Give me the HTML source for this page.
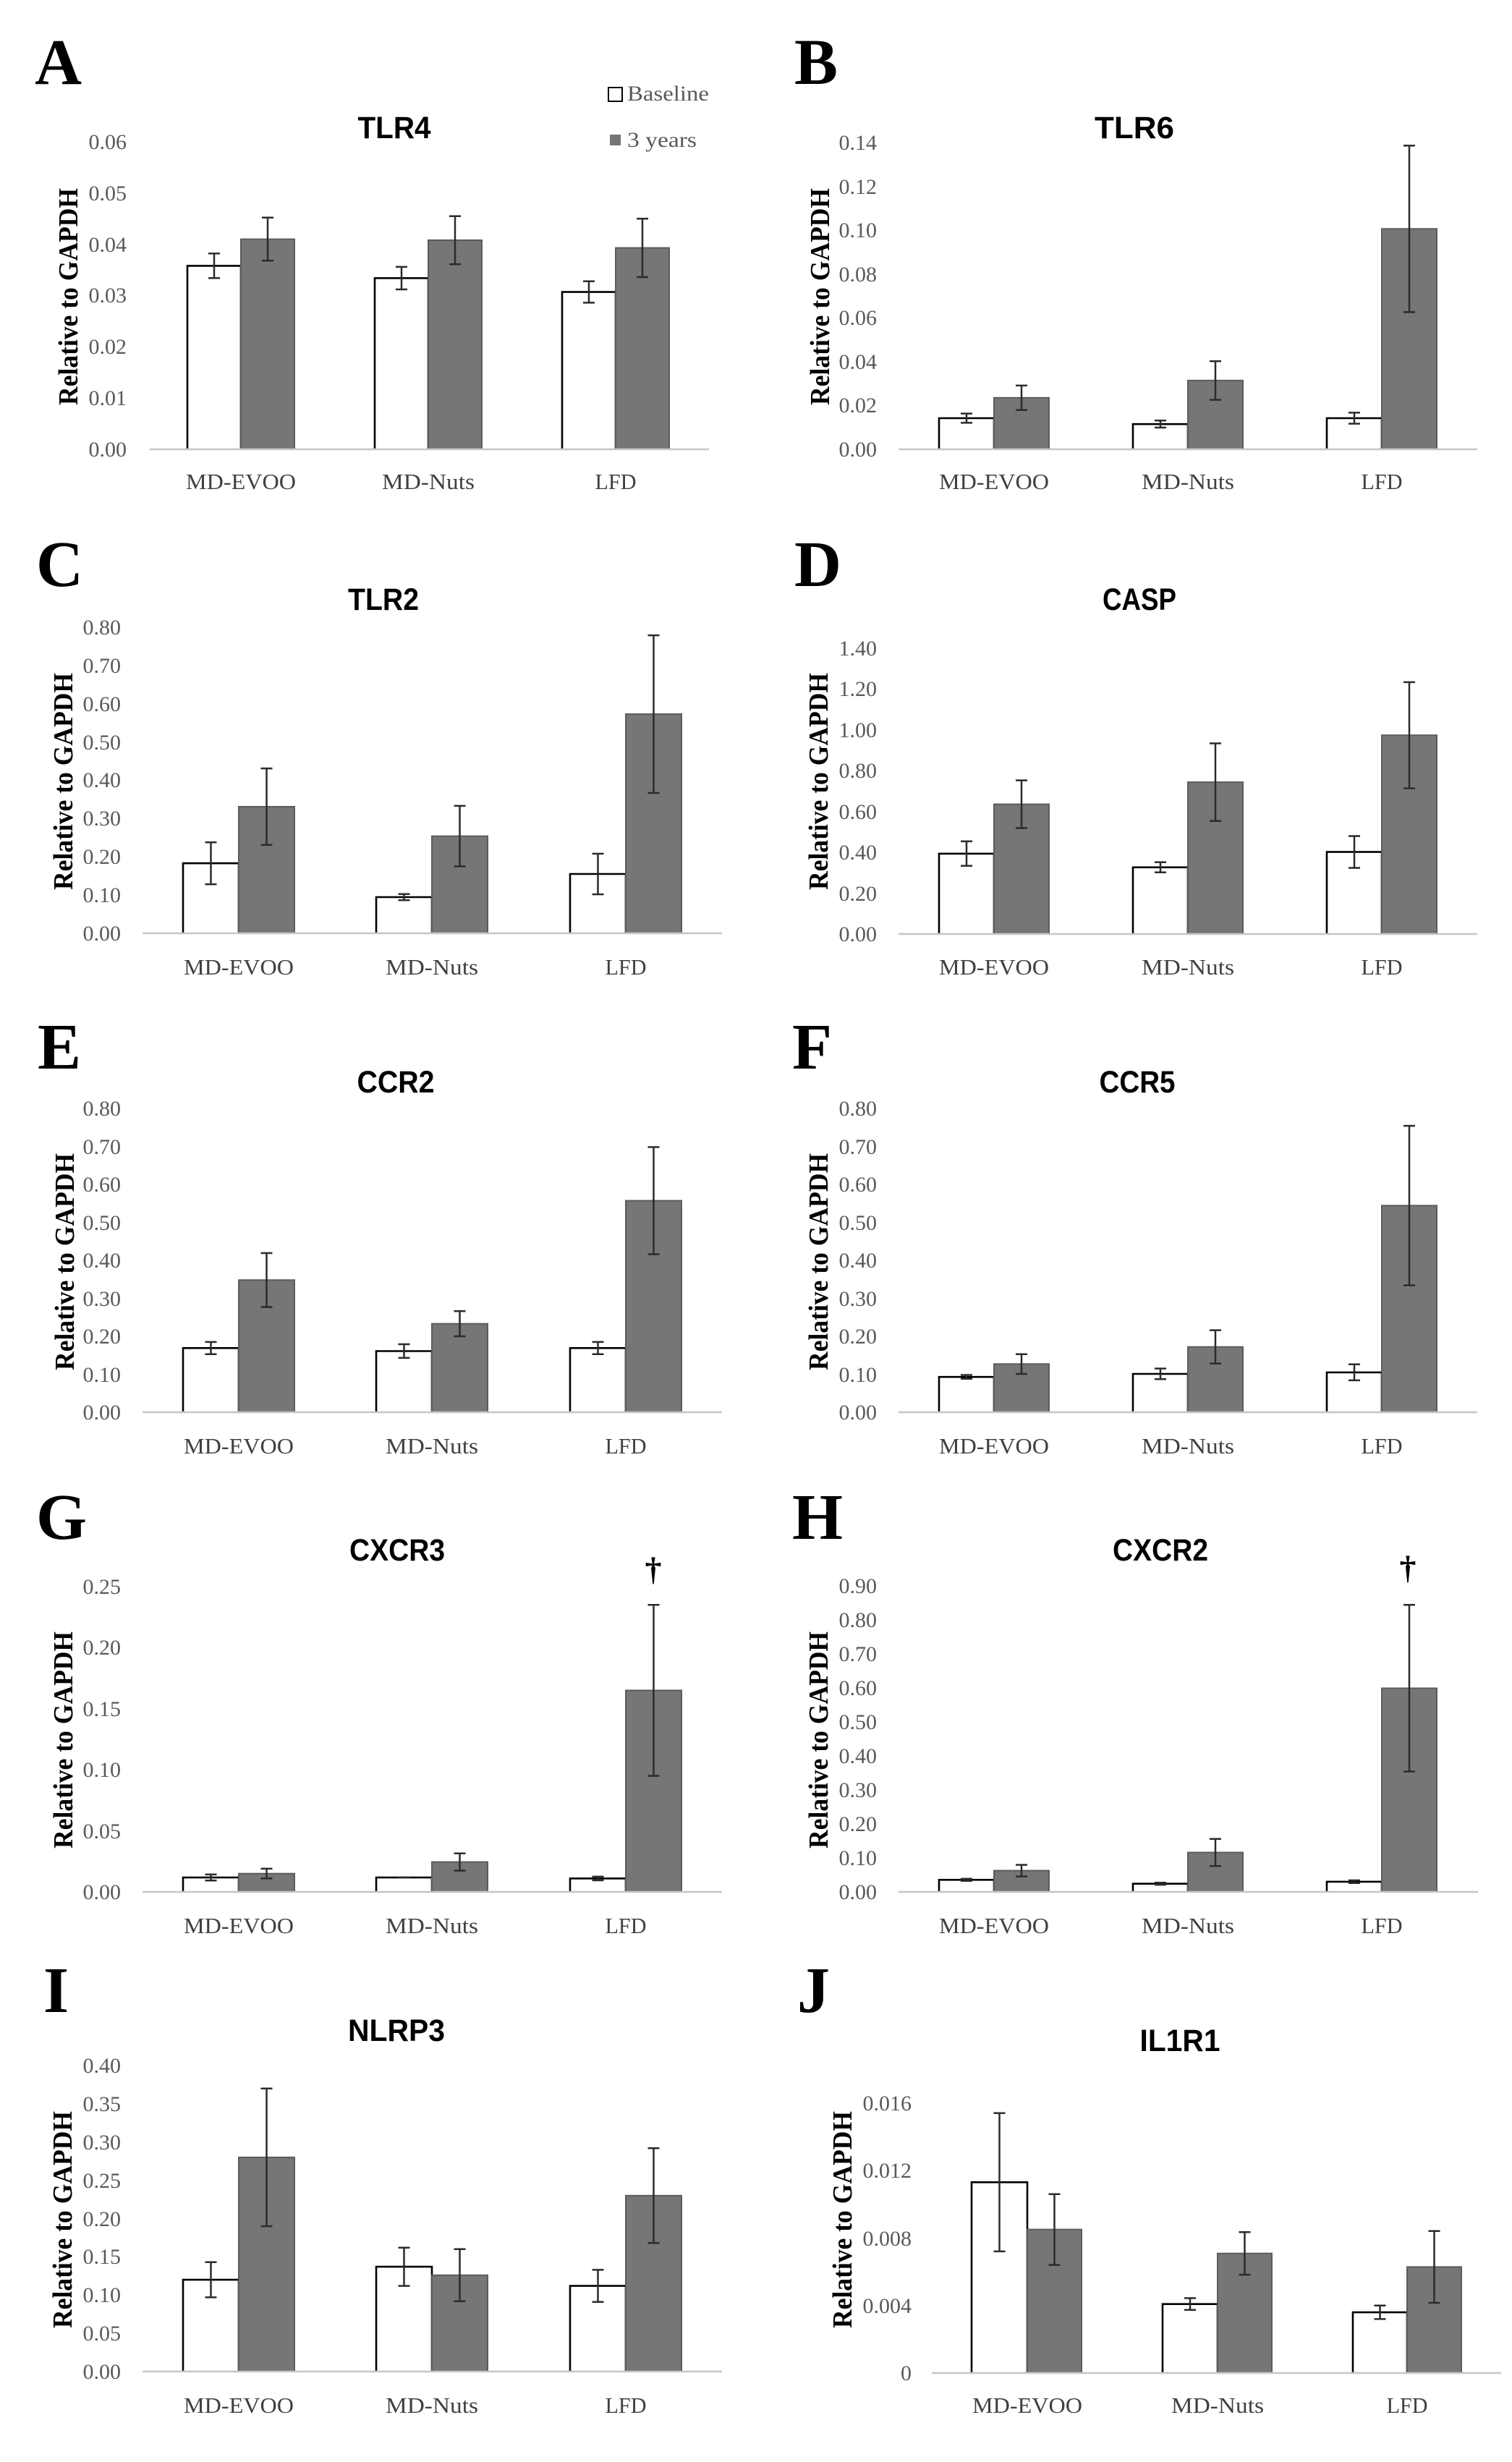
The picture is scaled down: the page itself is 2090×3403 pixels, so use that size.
<!DOCTYPE html>
<html><head><meta charset="utf-8"><style>
html,body{margin:0;padding:0;background:#fff;}
svg{display:block;}
.t{font-family:"Liberation Serif",serif;font-size:30px;fill:#595959;text-anchor:end;}
.x{font-family:"Liberation Serif",serif;font-size:31px;fill:#404040;text-anchor:middle;}
.ttl{font-family:"Liberation Sans",sans-serif;font-weight:bold;font-size:43px;fill:#000;text-anchor:middle;}
.yl{font-family:"Liberation Serif",serif;font-weight:bold;font-size:38px;fill:#000;text-anchor:middle;}
.L{font-family:"Liberation Serif",serif;font-weight:bold;font-size:90px;fill:#000;}
.lg{font-family:"Liberation Serif",serif;font-size:30px;fill:#595959;}
.dg{font-family:"Liberation Serif",serif;font-weight:bold;font-size:46px;fill:#000;text-anchor:middle;}
.ax{stroke:#c6c6c6;stroke-width:2.5;fill:none;}
.w{fill:#fff;stroke:#000;stroke-width:2.6;}
.g{fill:#767676;stroke:#5c5c5c;stroke-width:2;}
.e{stroke:#2b2b2b;stroke-width:2.5;fill:none;}
</style></head><body>
<svg xmlns="http://www.w3.org/2000/svg" width="2090" height="3403" viewBox="0 0 2090 3403">
<rect width="2090" height="3403" fill="#fff"/>

<!-- ================= A ================= -->
<text class="L" x="48" y="116">A</text>
<text class="ttl" x="545" y="191" textLength="101" lengthAdjust="spacingAndGlyphs">TLR4</text>
<rect x="841" y="121" width="19" height="19" fill="#fff" stroke="#000" stroke-width="2"/>
<text class="lg" x="867" y="139" textLength="113" lengthAdjust="spacingAndGlyphs">Baseline</text>
<rect x="843" y="186" width="15" height="15" fill="#767676"/>
<text class="lg" x="867" y="203" textLength="96" lengthAdjust="spacingAndGlyphs">3 years</text>
<text class="yl" transform="translate(107,410) rotate(-90)" textLength="300" lengthAdjust="spacingAndGlyphs">Relative to GAPDH</text>
<text class="t" x="175" y="206">0.06</text>
<text class="t" x="175" y="277">0.05</text>
<text class="t" x="175" y="348">0.04</text>
<text class="t" x="175" y="418">0.03</text>
<text class="t" x="175" y="489">0.02</text>
<text class="t" x="175" y="560">0.01</text>
<text class="t" x="175" y="631">0.00</text>
<path class="w" d="M259 621V367.4H333V621"/>
<rect class="g" x="333" y="330.6" width="74" height="290.4"/>
<path class="w" d="M518 621V384.4H592V621"/>
<rect class="g" x="592" y="332" width="74" height="289"/>
<path class="w" d="M777 621V403.6H851V621"/>
<rect class="g" x="851" y="342.6" width="74" height="278.4"/>
<line class="ax" x1="207" y1="621" x2="980" y2="621"/>
<path class="e" d="M296 350.4V384.4M288 350.4H304M288 384.4H304"/>
<path class="e" d="M370 300.8V360.3M362 300.8H378M362 360.3H378"/>
<path class="e" d="M555 368.9V400M547 368.9H563M547 400H563"/>
<path class="e" d="M629 298.7V365.3M621 298.7H637M621 365.3H637"/>
<path class="e" d="M814 388.7V418.4M806 388.7H822M806 418.4H822"/>
<path class="e" d="M888 302.3V383M880 302.3H896M880 383H896"/>
<text class="x" x="333" y="676" textLength="152" lengthAdjust="spacingAndGlyphs">MD-EVOO</text>
<text class="x" x="592" y="676" textLength="128" lengthAdjust="spacingAndGlyphs">MD-Nuts</text>
<text class="x" x="851" y="676" textLength="57" lengthAdjust="spacingAndGlyphs">LFD</text>

<!-- ================= B ================= -->
<text class="L" x="1098" y="116">B</text>
<text class="ttl" x="1568" y="191" textLength="110" lengthAdjust="spacingAndGlyphs">TLR6</text>
<text class="yl" transform="translate(1146,410) rotate(-90)" textLength="300" lengthAdjust="spacingAndGlyphs">Relative to GAPDH</text>
<text class="t" x="1212" y="207">0.14</text>
<text class="t" x="1212" y="268">0.12</text>
<text class="t" x="1212" y="328">0.10</text>
<text class="t" x="1212" y="389">0.08</text>
<text class="t" x="1212" y="449">0.06</text>
<text class="t" x="1212" y="510">0.04</text>
<text class="t" x="1212" y="570">0.02</text>
<text class="t" x="1212" y="631">0.00</text>
<path class="w" d="M1298 621V578H1374V621"/>
<rect class="g" x="1374" y="549.8" width="76" height="71.2"/>
<path class="w" d="M1566 621V586.2H1642V621"/>
<rect class="g" x="1642" y="525.9" width="76" height="95.1"/>
<path class="w" d="M1834 621V578H1910V621"/>
<rect class="g" x="1910" y="316.3" width="76" height="304.7"/>
<line class="ax" x1="1242" y1="621" x2="2042" y2="621"/>
<path class="e" d="M1336 571.6V584.4M1328 571.6H1344M1328 584.4H1344"/>
<path class="e" d="M1412 532.9V566.8M1404 532.9H1420M1404 566.8H1420"/>
<path class="e" d="M1604 581.3V591M1596 581.3H1612M1596 591H1612"/>
<path class="e" d="M1680 499.3V552.6M1672 499.3H1688M1672 552.6H1688"/>
<path class="e" d="M1872 570.4V585.6M1864 570.4H1880M1864 585.6H1880"/>
<path class="e" d="M1948 201.2V431.4M1940 201.2H1956M1940 431.4H1956"/>
<text class="x" x="1374" y="676" textLength="152" lengthAdjust="spacingAndGlyphs">MD-EVOO</text>
<text class="x" x="1642" y="676" textLength="128" lengthAdjust="spacingAndGlyphs">MD-Nuts</text>
<text class="x" x="1910" y="676" textLength="57" lengthAdjust="spacingAndGlyphs">LFD</text>

<!-- ================= C ================= -->
<text class="L" x="50" y="810">C</text>
<text class="ttl" x="530" y="843" textLength="98" lengthAdjust="spacingAndGlyphs">TLR2</text>
<text class="yl" transform="translate(100,1080) rotate(-90)" textLength="300" lengthAdjust="spacingAndGlyphs">Relative to GAPDH</text>
<text class="t" x="167" y="877">0.80</text>
<text class="t" x="167" y="930">0.70</text>
<text class="t" x="167" y="983">0.60</text>
<text class="t" x="167" y="1036">0.50</text>
<text class="t" x="167" y="1088">0.40</text>
<text class="t" x="167" y="1141">0.30</text>
<text class="t" x="167" y="1194">0.20</text>
<text class="t" x="167" y="1247">0.10</text>
<text class="t" x="167" y="1300">0.00</text>
<path class="w" d="M253 1290V1193.2H330V1290"/>
<rect class="g" x="330" y="1115" width="77" height="175"/>
<path class="w" d="M520 1290V1240H597V1290"/>
<rect class="g" x="597" y="1155.7" width="77" height="134.3"/>
<path class="w" d="M788 1290V1208H865V1290"/>
<rect class="g" x="865" y="987" width="77" height="303"/>
<line class="ax" x1="197" y1="1290" x2="998" y2="1290"/>
<path class="e" d="M291.5 1164.2V1222.3M283.5 1164.2H299.5M283.5 1222.3H299.5"/>
<path class="e" d="M368.5 1062.1V1167.9M360.5 1062.1H376.5M360.5 1167.9H376.5"/>
<path class="e" d="M558.5 1235.8V1244.3M550.5 1235.8H566.5M550.5 1244.3H566.5"/>
<path class="e" d="M635.5 1113.9V1197.5M627.5 1113.9H643.5M627.5 1197.5H643.5"/>
<path class="e" d="M826.5 1180V1236.1M818.5 1180H834.5M818.5 1236.1H834.5"/>
<path class="e" d="M903.5 878.1V1096M895.5 878.1H911.5M895.5 1096H911.5"/>
<text class="x" x="330" y="1347" textLength="152" lengthAdjust="spacingAndGlyphs">MD-EVOO</text>
<text class="x" x="597" y="1347" textLength="128" lengthAdjust="spacingAndGlyphs">MD-Nuts</text>
<text class="x" x="865" y="1347" textLength="57" lengthAdjust="spacingAndGlyphs">LFD</text>

<!-- ================= D ================= -->
<text class="L" x="1098" y="810">D</text>
<text class="ttl" x="1575" y="843" textLength="102" lengthAdjust="spacingAndGlyphs">CASP</text>
<text class="yl" transform="translate(1144,1080) rotate(-90)" textLength="300" lengthAdjust="spacingAndGlyphs">Relative to GAPDH</text>
<text class="t" x="1212" y="906">1.40</text>
<text class="t" x="1212" y="962">1.20</text>
<text class="t" x="1212" y="1019">1.00</text>
<text class="t" x="1212" y="1075">0.80</text>
<text class="t" x="1212" y="1132">0.60</text>
<text class="t" x="1212" y="1188">0.40</text>
<text class="t" x="1212" y="1245">0.20</text>
<text class="t" x="1212" y="1301">0.00</text>
<path class="w" d="M1298 1291V1179.9H1374V1291"/>
<rect class="g" x="1374" y="1111.6" width="76" height="179.4"/>
<path class="w" d="M1566 1291V1198.8H1642V1291"/>
<rect class="g" x="1642" y="1081.1" width="76" height="209.9"/>
<path class="w" d="M1834 1291V1177.6H1910V1291"/>
<rect class="g" x="1910" y="1016.2" width="76" height="274.8"/>
<line class="ax" x1="1242" y1="1291" x2="2042" y2="1291"/>
<path class="e" d="M1336 1162.9V1196.8M1328 1162.9H1344M1328 1196.8H1344"/>
<path class="e" d="M1412 1078.6V1144.6M1404 1078.6H1420M1404 1144.6H1420"/>
<path class="e" d="M1604 1191.7V1205.8M1596 1191.7H1612M1596 1205.8H1612"/>
<path class="e" d="M1680 1027.5V1134.7M1672 1027.5H1688M1672 1134.7H1688"/>
<path class="e" d="M1872 1155.6V1199.6M1864 1155.6H1880M1864 1199.6H1880"/>
<path class="e" d="M1948 942.9V1089.6M1940 942.9H1956M1940 1089.6H1956"/>
<text class="x" x="1374" y="1347" textLength="152" lengthAdjust="spacingAndGlyphs">MD-EVOO</text>
<text class="x" x="1642" y="1347" textLength="128" lengthAdjust="spacingAndGlyphs">MD-Nuts</text>
<text class="x" x="1910" y="1347" textLength="57" lengthAdjust="spacingAndGlyphs">LFD</text>

<!-- ================= E ================= -->
<text class="L" x="52" y="1477">E</text>
<text class="ttl" x="547" y="1510" textLength="107" lengthAdjust="spacingAndGlyphs">CCR2</text>
<text class="yl" transform="translate(102,1744) rotate(-90)" textLength="300" lengthAdjust="spacingAndGlyphs">Relative to GAPDH</text>
<text class="t" x="167" y="1542">0.80</text>
<text class="t" x="167" y="1595">0.70</text>
<text class="t" x="167" y="1647">0.60</text>
<text class="t" x="167" y="1700">0.50</text>
<text class="t" x="167" y="1752">0.40</text>
<text class="t" x="167" y="1805">0.30</text>
<text class="t" x="167" y="1857">0.20</text>
<text class="t" x="167" y="1910">0.10</text>
<text class="t" x="167" y="1962">0.00</text>
<path class="w" d="M253 1952V1863.3H330V1952"/>
<rect class="g" x="330" y="1769.3" width="77" height="182.7"/>
<path class="w" d="M520 1952V1867.5H597V1952"/>
<rect class="g" x="597" y="1829.7" width="77" height="122.3"/>
<path class="w" d="M788 1952V1863.3H865V1952"/>
<rect class="g" x="865" y="1659.6" width="77" height="292.4"/>
<line class="ax" x1="197" y1="1952" x2="998" y2="1952"/>
<path class="e" d="M291.5 1854.9V1871.7M283.5 1854.9H299.5M283.5 1871.7H299.5"/>
<path class="e" d="M368.5 1732V1806.6M360.5 1732H376.5M360.5 1806.6H376.5"/>
<path class="e" d="M558.5 1858V1876.9M550.5 1858H566.5M550.5 1876.9H566.5"/>
<path class="e" d="M635.5 1812.3V1847M627.5 1812.3H643.5M627.5 1847H643.5"/>
<path class="e" d="M826.5 1854.9V1871.7M818.5 1854.9H834.5M818.5 1871.7H834.5"/>
<path class="e" d="M903.5 1585.5V1733.6M895.5 1585.5H911.5M895.5 1733.6H911.5"/>
<text class="x" x="330" y="2009" textLength="152" lengthAdjust="spacingAndGlyphs">MD-EVOO</text>
<text class="x" x="597" y="2009" textLength="128" lengthAdjust="spacingAndGlyphs">MD-Nuts</text>
<text class="x" x="865" y="2009" textLength="57" lengthAdjust="spacingAndGlyphs">LFD</text>

<!-- ================= F ================= -->
<text class="L" x="1095" y="1477">F</text>
<text class="ttl" x="1572" y="1510" textLength="105" lengthAdjust="spacingAndGlyphs">CCR5</text>
<text class="yl" transform="translate(1144,1744) rotate(-90)" textLength="300" lengthAdjust="spacingAndGlyphs">Relative to GAPDH</text>
<text class="t" x="1212" y="1542">0.80</text>
<text class="t" x="1212" y="1595">0.70</text>
<text class="t" x="1212" y="1647">0.60</text>
<text class="t" x="1212" y="1700">0.50</text>
<text class="t" x="1212" y="1752">0.40</text>
<text class="t" x="1212" y="1805">0.30</text>
<text class="t" x="1212" y="1857">0.20</text>
<text class="t" x="1212" y="1910">0.10</text>
<text class="t" x="1212" y="1962">0.00</text>
<path class="w" d="M1298 1952V1903.2H1374V1952"/>
<rect class="g" x="1374" y="1885.3" width="76" height="66.7"/>
<path class="w" d="M1566 1952V1899H1642V1952"/>
<rect class="g" x="1642" y="1861.7" width="76" height="90.3"/>
<path class="w" d="M1834 1952V1896.9H1910V1952"/>
<rect class="g" x="1910" y="1666.4" width="76" height="285.6"/>
<line class="ax" x1="1242" y1="1952" x2="2042" y2="1952"/>
<path class="e" d="M1336 1900.5V1905.8M1328 1900.5H1344M1328 1905.8H1344"/>
<path class="e" d="M1412 1871.7V1899M1404 1871.7H1420M1404 1899H1420"/>
<path class="e" d="M1604 1891.6V1906.3M1596 1891.6H1612M1596 1906.3H1612"/>
<path class="e" d="M1680 1838.6V1884.8M1672 1838.6H1688M1672 1884.8H1688"/>
<path class="e" d="M1872 1885.8V1907.9M1864 1885.8H1880M1864 1907.9H1880"/>
<path class="e" d="M1948 1556.1V1776.6M1940 1556.1H1956M1940 1776.6H1956"/>
<text class="x" x="1374" y="2009" textLength="152" lengthAdjust="spacingAndGlyphs">MD-EVOO</text>
<text class="x" x="1642" y="2009" textLength="128" lengthAdjust="spacingAndGlyphs">MD-Nuts</text>
<text class="x" x="1910" y="2009" textLength="57" lengthAdjust="spacingAndGlyphs">LFD</text>

<!-- ================= G ================= -->
<text class="L" x="50" y="2127">G</text>
<text class="ttl" x="549" y="2157" textLength="132" lengthAdjust="spacingAndGlyphs">CXCR3</text>
<text class="yl" transform="translate(100,2405) rotate(-90)" textLength="300" lengthAdjust="spacingAndGlyphs">Relative to GAPDH</text>
<text class="t" x="167" y="2203">0.25</text>
<text class="t" x="167" y="2287">0.20</text>
<text class="t" x="167" y="2372">0.15</text>
<text class="t" x="167" y="2456">0.10</text>
<text class="t" x="167" y="2541">0.05</text>
<text class="t" x="167" y="2625">0.00</text>
<path class="w" d="M253 2615V2595.1H330V2615"/>
<rect class="g" x="330" y="2589.7" width="77" height="25.3"/>
<path class="w" d="M520 2615V2595.1H597V2615"/>
<rect class="g" x="597" y="2573.6" width="77" height="41.4"/>
<path class="w" d="M788 2615V2596.4H865V2615"/>
<rect class="g" x="865" y="2336.5" width="77" height="278.5"/>
<line class="ax" x1="197" y1="2615" x2="998" y2="2615"/>
<path class="e" d="M291.5 2590.9V2599.3M283.5 2590.9H299.5M283.5 2599.3H299.5"/>
<path class="e" d="M368.5 2582.9V2596.4M360.5 2582.9H376.5M360.5 2596.4H376.5"/>
<path class="e" d="M550.5 2595H566.5"/>
<path class="e" d="M635.5 2561.7V2585.6M627.5 2561.7H643.5M627.5 2585.6H643.5"/>
<path class="e" d="M826.5 2593.9V2599M818.5 2593.9H834.5M818.5 2599H834.5"/>
<path class="e" d="M903.5 2218.3V2454.6M895.5 2218.3H911.5M895.5 2454.6H911.5"/>
<text class="dg" x="903" y="2184">†</text>
<text class="x" x="330" y="2672" textLength="152" lengthAdjust="spacingAndGlyphs">MD-EVOO</text>
<text class="x" x="597" y="2672" textLength="128" lengthAdjust="spacingAndGlyphs">MD-Nuts</text>
<text class="x" x="865" y="2672" textLength="57" lengthAdjust="spacingAndGlyphs">LFD</text>

<!-- ================= H ================= -->
<text class="L" x="1095" y="2127">H</text>
<text class="ttl" x="1604" y="2157" textLength="132" lengthAdjust="spacingAndGlyphs">CXCR2</text>
<text class="yl" transform="translate(1144,2405) rotate(-90)" textLength="300" lengthAdjust="spacingAndGlyphs">Relative to GAPDH</text>
<text class="t" x="1212" y="2202">0.90</text>
<text class="t" x="1212" y="2249">0.80</text>
<text class="t" x="1212" y="2296">0.70</text>
<text class="t" x="1212" y="2343">0.60</text>
<text class="t" x="1212" y="2390">0.50</text>
<text class="t" x="1212" y="2437">0.40</text>
<text class="t" x="1212" y="2484">0.30</text>
<text class="t" x="1212" y="2531">0.20</text>
<text class="t" x="1212" y="2578">0.10</text>
<text class="t" x="1212" y="2625">0.00</text>
<path class="w" d="M1298 2615V2598.3H1374V2615"/>
<rect class="g" x="1374" y="2585.6" width="76" height="29.4"/>
<path class="w" d="M1566 2615V2603.7H1642V2615"/>
<rect class="g" x="1642" y="2560.5" width="76" height="54.5"/>
<path class="w" d="M1834 2615V2600.9H1910V2615"/>
<rect class="g" x="1910" y="2333.5" width="76" height="281.5"/>
<line class="ax" x1="1242" y1="2615" x2="2043" y2="2615"/>
<path class="e" d="M1336 2596.9V2599.7M1328 2596.9H1344M1328 2599.7H1344"/>
<path class="e" d="M1412 2577.6V2593.6M1404 2577.6H1420M1404 2593.6H1420"/>
<path class="e" d="M1604 2602.3V2605.1M1596 2602.3H1612M1596 2605.1H1612"/>
<path class="e" d="M1680 2541.7V2579.3M1672 2541.7H1688M1672 2579.3H1688"/>
<path class="e" d="M1872 2599V2602.8M1864 2599H1880M1864 2602.8H1880"/>
<path class="e" d="M1948 2218.3V2448.6M1940 2218.3H1956M1940 2448.6H1956"/>
<text class="dg" x="1946" y="2182">†</text>
<text class="x" x="1374" y="2672" textLength="152" lengthAdjust="spacingAndGlyphs">MD-EVOO</text>
<text class="x" x="1642" y="2672" textLength="128" lengthAdjust="spacingAndGlyphs">MD-Nuts</text>
<text class="x" x="1910" y="2672" textLength="57" lengthAdjust="spacingAndGlyphs">LFD</text>

<!-- ================= I ================= -->
<text class="L" x="60" y="2781">I</text>
<text class="ttl" x="548" y="2821" textLength="134" lengthAdjust="spacingAndGlyphs">NLRP3</text>
<text class="yl" transform="translate(99,3068) rotate(-90)" textLength="300" lengthAdjust="spacingAndGlyphs">Relative to GAPDH</text>
<text class="t" x="167" y="2865">0.40</text>
<text class="t" x="167" y="2918">0.35</text>
<text class="t" x="167" y="2971">0.30</text>
<text class="t" x="167" y="3024">0.25</text>
<text class="t" x="167" y="3077">0.20</text>
<text class="t" x="167" y="3129">0.15</text>
<text class="t" x="167" y="3182">0.10</text>
<text class="t" x="167" y="3235">0.05</text>
<text class="t" x="167" y="3288">0.00</text>
<path class="w" d="M253 3278V3151.1H330V3278"/>
<rect class="g" x="330" y="2981.9" width="77" height="296.1"/>
<path class="w" d="M520 3278V3133.1H597V3278"/>
<rect class="g" x="597" y="3144.8" width="77" height="133.2"/>
<path class="w" d="M788 3278V3159.6H865V3278"/>
<rect class="g" x="865" y="3034.8" width="77" height="243.2"/>
<line class="ax" x1="197" y1="3278" x2="998" y2="3278"/>
<path class="e" d="M291.5 3126.8V3175.4M283.5 3126.8H299.5M283.5 3175.4H299.5"/>
<path class="e" d="M368.5 2886.7V3077.1M360.5 2886.7H376.5M360.5 3077.1H376.5"/>
<path class="e" d="M558.5 3106.7V3159.6M550.5 3106.7H566.5M550.5 3159.6H566.5"/>
<path class="e" d="M635.5 3108.8V3180.7M627.5 3108.8H643.5M627.5 3180.7H643.5"/>
<path class="e" d="M826.5 3137.4V3181.8M818.5 3137.4H834.5M818.5 3181.8H834.5"/>
<path class="e" d="M903.5 2969.2V3100.3M895.5 2969.2H911.5M895.5 3100.3H911.5"/>
<text class="x" x="330" y="3335" textLength="152" lengthAdjust="spacingAndGlyphs">MD-EVOO</text>
<text class="x" x="597" y="3335" textLength="128" lengthAdjust="spacingAndGlyphs">MD-Nuts</text>
<text class="x" x="865" y="3335" textLength="57" lengthAdjust="spacingAndGlyphs">LFD</text>

<!-- ================= J ================= -->
<text class="L" x="1102" y="2781">J</text>
<text class="ttl" x="1631" y="2835" textLength="111" lengthAdjust="spacingAndGlyphs">IL1R1</text>
<text class="yl" transform="translate(1177,3068) rotate(-90)" textLength="300" lengthAdjust="spacingAndGlyphs">Relative to GAPDH</text>
<text class="t" x="1260" y="2917">0.016</text>
<text class="t" x="1260" y="3010">0.012</text>
<text class="t" x="1260" y="3104">0.008</text>
<text class="t" x="1260" y="3197">0.004</text>
<text class="t" x="1260" y="3290">0</text>
<path class="w" d="M1343 3280V3016.3H1420V3280"/>
<rect class="g" x="1420" y="3081.6" width="75" height="198.4"/>
<path class="w" d="M1607 3280V3184.7H1683V3280"/>
<rect class="g" x="1683" y="3114.7" width="75" height="165.3"/>
<path class="w" d="M1870 3280V3196.1H1945V3280"/>
<rect class="g" x="1945" y="3133.4" width="75" height="146.6"/>
<line class="ax" x1="1288" y1="3280" x2="2075" y2="3280"/>
<path class="e" d="M1381.5 2920.8V3111.9M1373.5 2920.8H1389.5M1373.5 3111.9H1389.5"/>
<path class="e" d="M1457.5 3032.7V3130.6M1449.5 3032.7H1465.5M1449.5 3130.6H1465.5"/>
<path class="e" d="M1645 3176.5V3192.8M1637 3176.5H1653M1637 3192.8H1653"/>
<path class="e" d="M1720.5 3085.3V3144.1M1712.5 3085.3H1728.5M1712.5 3144.1H1728.5"/>
<path class="e" d="M1907.5 3186.7V3205.4M1899.5 3186.7H1915.5M1899.5 3205.4H1915.5"/>
<path class="e" d="M1982.5 3083.7V3183M1974.5 3083.7H1990.5M1974.5 3183H1990.5"/>
<text class="x" x="1420" y="3335" textLength="152" lengthAdjust="spacingAndGlyphs">MD-EVOO</text>
<text class="x" x="1683" y="3335" textLength="128" lengthAdjust="spacingAndGlyphs">MD-Nuts</text>
<text class="x" x="1945" y="3335" textLength="57" lengthAdjust="spacingAndGlyphs">LFD</text>
</svg>
</body></html>
